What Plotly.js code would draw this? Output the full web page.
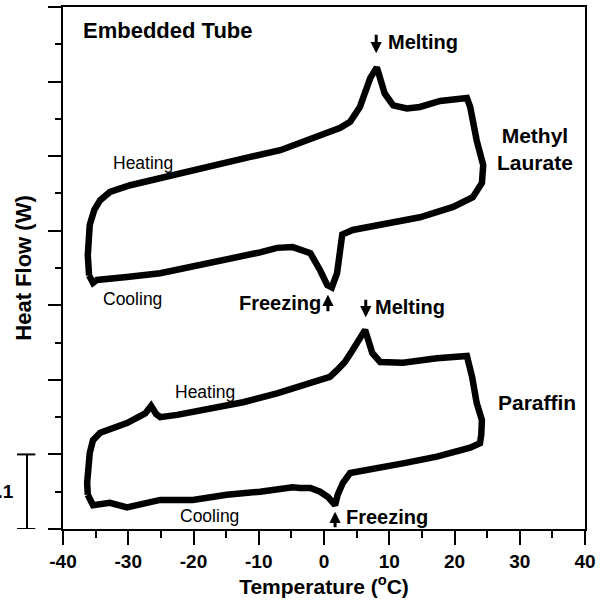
<!DOCTYPE html>
<html>
<head>
<meta charset="utf-8">
<script src="https://cdn.plot.ly/plotly-3.0.1.min.js"></script>
<style>html,body{margin:0;padding:0;background:#fff;}#chart{width:609px;height:600px;}</style>
</head>
<body>
<div id="chart"></div>
<script>
// Methyl Laurate – heating then cooling (temperature °C, heat flow in W, arbitrary offset)
const mlHeatT = [-36.0, -36.2, -35.9, -35.2, -34.3, -32.8, -29.7, -25.1, -20.5, -15.9, -11.3, -6.7, -2.1, 0.9, 2.5, 4.0, 5.5, 7.1, 8.1, 9.3, 10.6, 12.7, 14.7, 17.8, 21.9, 22.4, 23.4, 24.4];
const mlHeatQ = [0.340, 0.367, 0.408, 0.428, 0.441, 0.452, 0.461, 0.471, 0.480, 0.489, 0.499, 0.508, 0.523, 0.532, 0.538, 0.546, 0.566, 0.605, 0.619, 0.584, 0.568, 0.564, 0.566, 0.574, 0.578, 0.566, 0.521, 0.488];
const mlCoolT = [24.4, 24.2, 22.8, 19.8, 14.7, 9.7, 4.4, 2.8, 2.5, 2.0, 1.2, 0.5, -0.6, -2.1, -4.8, -7.2, -9.8, -14.9, -20.1, -25.1, -30.2, -34.8, -35.4, -36.0];
const mlCoolQ = [0.479, 0.464, 0.445, 0.432, 0.418, 0.410, 0.401, 0.395, 0.378, 0.343, 0.324, 0.327, 0.347, 0.370, 0.378, 0.377, 0.371, 0.361, 0.351, 0.343, 0.338, 0.334, 0.330, 0.340];

// Paraffin – heating then cooling
const pfHeatT = [-36.2, -36.3, -35.9, -35.4, -34.3, -30.2, -27.4, -26.5, -25.7, -25.1, -22.5, -17.5, -12.4, -7.2, -2.1, 0.9, 2.0, 3.2, 4.4, 5.5, 6.3, 7.4, 8.6, 12.1, 17.3, 21.9, 22.7, 23.4, 24.2];
const pfHeatQ = [0.046, 0.062, 0.102, 0.119, 0.129, 0.142, 0.155, 0.165, 0.154, 0.150, 0.153, 0.162, 0.170, 0.182, 0.196, 0.204, 0.213, 0.224, 0.240, 0.256, 0.267, 0.236, 0.224, 0.223, 0.229, 0.232, 0.204, 0.169, 0.146];
const pfCoolT = [24.1, 23.9, 22.4, 17.3, 12.1, 7.1, 4.0, 2.9, 2.1, 1.7, 0.6, -0.6, -2.1, -3.7, -4.8, -9.8, -14.9, -20.1, -25.1, -30.2, -32.8, -35.4, -36.2];
const pfCoolQ = [0.126, 0.115, 0.109, 0.097, 0.088, 0.079, 0.075, 0.062, 0.046, 0.032, 0.043, 0.050, 0.055, 0.055, 0.056, 0.050, 0.046, 0.039, 0.039, 0.029, 0.035, 0.032, 0.046];

const xTickVals = [-40, -30, -20, -10, 0, 10, 20, 30, 40];
const xTickText = ['-40', '-30', '-20', '-10', '0', '10', '20', '30', '40'];

const FONT = 'Liberation Sans, Arial, Helvetica, sans-serif';
const lineStyle = {color: '#000', width: 6.5};

function loop(hx, hy, cx, cy) {
  return {x: hx.concat(cx), y: hy.concat(cy), type: 'scatter', mode: 'lines', line: lineStyle,
    hoverinfo: 'skip', showlegend: false};
}
const data = [
  loop(mlHeatT, mlHeatQ, mlCoolT, mlCoolQ),
  loop(pfHeatT, pfHeatQ, pfCoolT, pfCoolQ)
];

function label(text, x, y, size, bold, xanchor) {
  return {text: bold ? '<b>' + text + '</b>' : text, x: x, y: y, xref: 'x', yref: 'y',
    showarrow: false, xanchor: xanchor || 'center', yanchor: 'middle',
    font: {family: FONT, size: size, color: '#000'}};
}
function arrow(x, y, ay) {
  return {text: '', x: x, y: y, xref: 'x', yref: 'y', showarrow: true, ax: 0, ay: ay,
    arrowhead: 2, arrowsize: 0.75, arrowwidth: 3, arrowcolor: '#000', standoff: 0, startstandoff: 0};
}

const annotations = [
  label('Embedded Tube', -37.2, 0.668, 22, true, 'left'),
  label('Melting', 9.5, 0.653, 20, true, 'left'),
  arrow(8.0, 0.638, -20),
  label('Methyl<br>Laurate', 32.4, 0.510, 21, true, 'center'),
  label('Heating', -27.8, 0.491, 17.5, false, 'center'),
  label('Cooling', -29.4, 0.308, 17.5, false, 'center'),
  label('Freezing', -0.15, 0.303, 20, true, 'right'),
  arrow(0.6, 0.314, 18),
  label('Melting', 7.5, 0.298, 20, true, 'left'),
  arrow(6.4, 0.284, -19),
  label('Heating', -18.2, 0.184, 17.5, false, 'center'),
  label('Paraffin', 32.6, 0.169, 21, true, 'center'),
  label('Cooling', -17.5, 0.017, 17.5, false, 'center'),
  label('Freezing', 3.1, 0.016, 20, true, 'left'),
  arrow(1.7, 0.023, 17),
  {text: '<b>0.1</b>', x: -0.0977, y: 0.05, xref: 'paper', yref: 'y', showarrow: false,
    xanchor: 'right', yanchor: 'middle', xshift: 4, font: {family: FONT, size: 19, color: '#000'}}
];

const shapes = [
  {type: 'line', xref: 'paper', yref: 'y', x0: -0.069, x1: -0.069, y0: 0, y1: 0.1, line: {color: '#000', width: 2}},
  {type: 'line', xref: 'paper', yref: 'y', x0: -0.088, x1: -0.053, y0: 0, y1: 0, line: {color: '#000', width: 2}},
  {type: 'line', xref: 'paper', yref: 'y', x0: -0.088, x1: -0.053, y0: 0.1, y1: 0.1, line: {color: '#000', width: 2}}
];

const layout = {
  width: 609, height: 600,
  margin: {l: 63, r: 24, t: 7, b: 71},
  paper_bgcolor: '#fff', plot_bgcolor: '#fff',
  showlegend: false,
  xaxis: {
    range: [-40, 40], tickmode: 'array', tickvals: xTickVals, ticktext: xTickText,
    ticks: 'outside', ticklen: 14, tickwidth: 2, tickcolor: '#000',
    minor: {dtick: 5, ticks: 'outside', ticklen: 7, tickwidth: 2, tickcolor: '#000', showgrid: false},
    showline: true, linewidth: 2, linecolor: '#000', mirror: true,
    showgrid: false, zeroline: false,
    tickfont: {family: FONT, size: 19, color: '#000', weight: 'bold'},
    title: {text: '<b>Temperature (<sup>o</sup>C)</b>', font: {family: FONT, size: 21, color: '#000'}, standoff: 8}
  },
  yaxis: {
    range: [0, 0.7], dtick: 0.1, tick0: 0,
    ticks: 'outside', ticklen: 13, tickwidth: 2, tickcolor: '#000',
    minor: {dtick: 0.05, ticks: 'outside', ticklen: 6, tickwidth: 2, tickcolor: '#000', showgrid: false},
    showline: true, linewidth: 2, linecolor: '#000', mirror: true,
    showgrid: false, zeroline: false, showticklabels: false,
    title: {text: '<b>Heat Flow (W)</b>', font: {family: FONT, size: 22, color: '#000'}, standoff: 10}
  },
  annotations: annotations,
  shapes: shapes
};

Plotly.newPlot('chart', data, layout, {displayModeBar: false, staticPlot: true});
</script>
</body>
</html>
